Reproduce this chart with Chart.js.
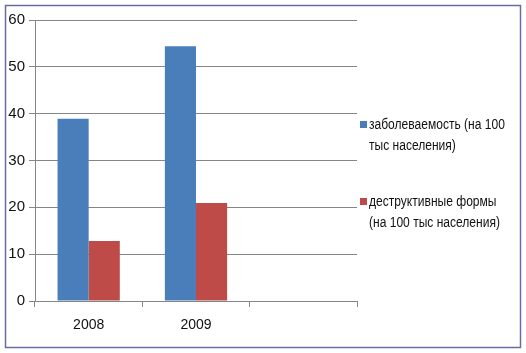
<!DOCTYPE html>
<html>
<head>
<meta charset="utf-8">
<script src="https://cdn.jsdelivr.net/npm/chart.js@4/dist/chart.umd.min.js"></script>
<style>
  html, body { margin: 0; padding: 0; background: #fff; }
  #wrap { width: 526px; height: 353px; position: relative; }
</style>
</head>
<body>
<div id="wrap"><canvas id="tbChart" width="526" height="353"></canvas></div>
<script>
const years = ['2008', '2009', ''];
const incidence = [38.9, 54.4, null];
const destructive = [12.8, 20.9, null];
const seriesNames = [
    ['заболеваемость (на 100', 'тыс населения)'],
    ['деструктивные формы', '(на 100 тыс населения)']
];
const yTicks = [0, 10, 20, 30, 40, 50, 60];

const FONT = '"Liberation Sans Narrow", "Arial Narrow", "Liberation Sans", Arial, sans-serif';
const GRID = '#868686';

// frame around the whole picture + legend on the right
const framePlugin = {
    id: 'frame',
    beforeDraw(chart) {
        const c = chart.ctx;
        c.save();
        c.fillStyle = '#fff';
        c.fillRect(0, 0, chart.width, chart.height);
        c.strokeStyle = '#6b6ba3';
        c.lineWidth = 1.5;
        c.strokeRect(5.5, 5.5, 515, 342);
        c.restore();
    },
    afterDraw(chart) {
        const c = chart.ctx;
        const x = chart.chartArea.right + 3;
        const tops = [125, 202];
        c.save();
        c.font = '14px ' + FONT;
        c.textBaseline = 'middle';
        chart.data.datasets.forEach(function (ds, i) {
            c.fillStyle = ds.backgroundColor;
            c.fillRect(x, tops[i] - 4, 7, 7);
            c.fillStyle = '#111';
            seriesNames[i].forEach(function (line, j) {
                // squeeze text a bit, the original uses a narrow face
                c.save();
                c.translate(x + 9, tops[i] + j * 21);
                c.scale(0.86, 1);
                c.fillText(line, 0, 0);
                c.restore();
            });
        });
        c.restore();
    }
};

new Chart(document.getElementById('tbChart'), {
    type: 'bar',
    data: {
        labels: years,
        datasets: [
            { label: seriesNames[0].join(' '), data: incidence, backgroundColor: '#4a7ebb' },
            { label: seriesNames[1].join(' '), data: destructive, backgroundColor: '#be4b48' }
        ]
    },
    options: {
        responsive: false,
        animation: false,
        categoryPercentage: 0.58,
        barPercentage: 1.0,
        layout: { padding: { left: 0, top: 20, right: 169, bottom: 0 } },
        plugins: {
            legend: { display: false },
            tooltip: { enabled: false }
        },
        scales: {
            x: {
                grid: { drawOnChartArea: false, color: GRID, tickLength: 6, offset: true },
                border: { color: GRID },
                ticks: { color: '#111', font: { family: FONT, size: 14 }, padding: 10 },
                afterFit(scale) { scale.height = 52; }
            },
            y: {
                min: 0,
                max: 60,
                afterBuildTicks(scale) { scale.ticks = yTicks.map(v => ({ value: v })); },
                grid: { color: GRID, tickLength: 6 },
                border: { color: GRID },
                ticks: { color: '#111', font: { family: FONT, size: 15 }, padding: 4 },
                afterFit(scale) { scale.width = 35; }
            }
        }
    },
    plugins: [framePlugin]
});
</script>
</body>
</html>
